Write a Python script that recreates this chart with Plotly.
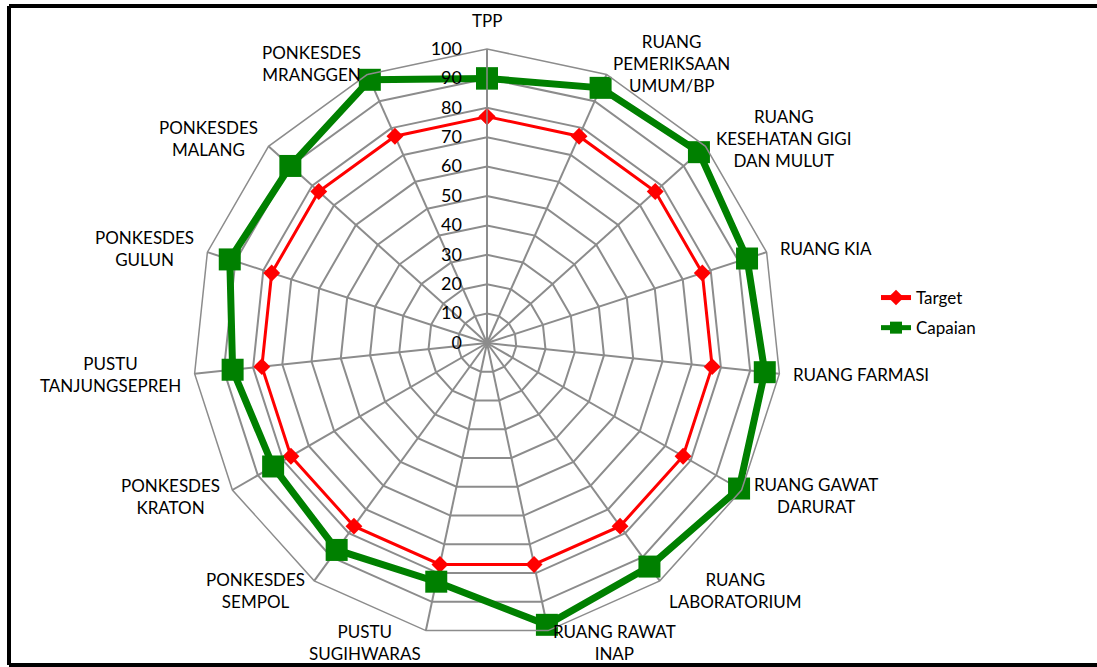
import math
import plotly.graph_objects as go

# Kategori ruang / unit layanan (searah jarum jam mulai dari atas)
categories = [
    "TPP",
    "RUANG<br>PEMERIKSAAN<br>UMUM/BP",
    "RUANG<br>KESEHATAN GIGI<br>DAN MULUT",
    "RUANG KIA",
    "RUANG FARMASI",
    "RUANG GAWAT<br>DARURAT",
    "RUANG<br>LABORATORIUM",
    "RUANG RAWAT<br>INAP",
    "PUSTU<br>SUGIHWARAS",
    "PONKESDES<br>SEMPOL",
    "PONKESDES<br>KRATON",
    "PUSTU<br>TANJUNGSEPREH",
    "PONKESDES<br>GULUN",
    "PONKESDES<br>MALANG",
    "PONKESDES<br>MRANGGEN",
]

target = [77, 77, 77, 77, 77, 77, 77, 77, 77, 77, 77, 77, 77, 77, 77]
capaian = [90, 95, 97, 93, 95, 99, 94, 98, 83, 87, 84, 87, 92, 90, 98]

radial_ticks = [0, 10, 20, 30, 40, 50, 60, 70, 80, 90, 100]

W, H = 1097, 667
cx, cy, R = 487, 343, 294   # polar centre and outer radius in pixels
LABEL_GAP = 12
FONT = "Lato"


def closed(values):
    return values + values[:1]


theta = closed(categories)

fig = go.Figure()
fig.add_trace(go.Scatterpolar(
    r=closed(target), theta=theta, name="Target", legendgroup="t",
    mode="lines+markers",
    line=dict(color="#ff0000", width=3),
    marker=dict(symbol="diamond", size=13, color="#ff0000"),
))
fig.add_trace(go.Scatterpolar(
    r=closed(capaian), theta=theta, name="Capaian", legendgroup="c",
    mode="lines+markers",
    line=dict(color="#008000", width=7),
    marker=dict(symbol="square", size=22, color="#008000"),
))

# Category labels placed just outside each polygon vertex
annotations = []
n = len(categories)
for k, label in enumerate(categories):
    a = math.radians(360 * k / n)
    s, c = math.sin(a), math.cos(a)
    if abs(s) < 1e-6:
        px, py = cx, cy - (R + 16)
        xa, ya = "center", "bottom"
    else:
        px = cx + (R + LABEL_GAP) * s
        py = cy - (R + LABEL_GAP) * c
        xa = "left" if s > 0 else "right"
        ya = "middle"
    annotations.append(dict(
        x=px / W, y=1 - py / H, xref="paper", yref="paper",
        text=label, showarrow=False, xanchor=xa, yanchor=ya,
        align="center", font=dict(family=FONT, size=17, color="#000000"),
    ))

# Chart-area frame (left, top and bottom edges)
frame = dict(color="black", width=4)
x_left, y_top, y_bot = 9 / W, 1 - 6 / H, 1 - 665 / H
shapes = [
    dict(type="line", xref="paper", yref="paper",
         x0=x_left, x1=x_left, y0=y_bot, y1=y_top, line=frame),
    dict(type="line", xref="paper", yref="paper",
         x0=x_left, x1=1.0, y0=y_top, y1=y_top, line=frame),
    dict(type="line", xref="paper", yref="paper",
         x0=x_left, x1=1.0, y0=y_bot, y1=y_bot, line=frame),
]

grid = "#8c8c8c"
fig.update_layout(
    width=W, height=H,
    margin=dict(l=0, r=0, t=0, b=0),
    paper_bgcolor="white",
    font=dict(family=FONT, size=16, color="#000000"),
    polar=dict(
        domain=dict(x=[(cx - R) / W, (cx + R) / W],
                    y=[(H - cy - R) / H, (H - cy + R) / H]),
        bgcolor="white",
        gridshape="linear",
        radialaxis=dict(
            range=[0, 100], tickvals=radial_ticks, angle=90,
            side="counterclockwise", tickangle=90,
            showline=True, linecolor=grid, linewidth=1.5,
            gridcolor=grid, gridwidth=1.5,
            ticks="outside", ticklen=18, tickcolor="rgba(0,0,0,0)",
            tickfont=dict(size=18),
        ),
        angularaxis=dict(
            direction="clockwise", rotation=90,
            showline=True, linecolor=grid, linewidth=1.5,
            gridcolor=grid, gridwidth=1.5, ticks="",
            showticklabels=False,
        ),
    ),
    legend=dict(
        x=876 / W, y=(H - 280) / H, xanchor="left", yanchor="top",
        font=dict(size=17), bgcolor="rgba(0,0,0,0)",
        itemsizing="constant", tracegroupgap=5,
    ),
    annotations=annotations,
    shapes=shapes,
)

fig.write_html("out.html")
